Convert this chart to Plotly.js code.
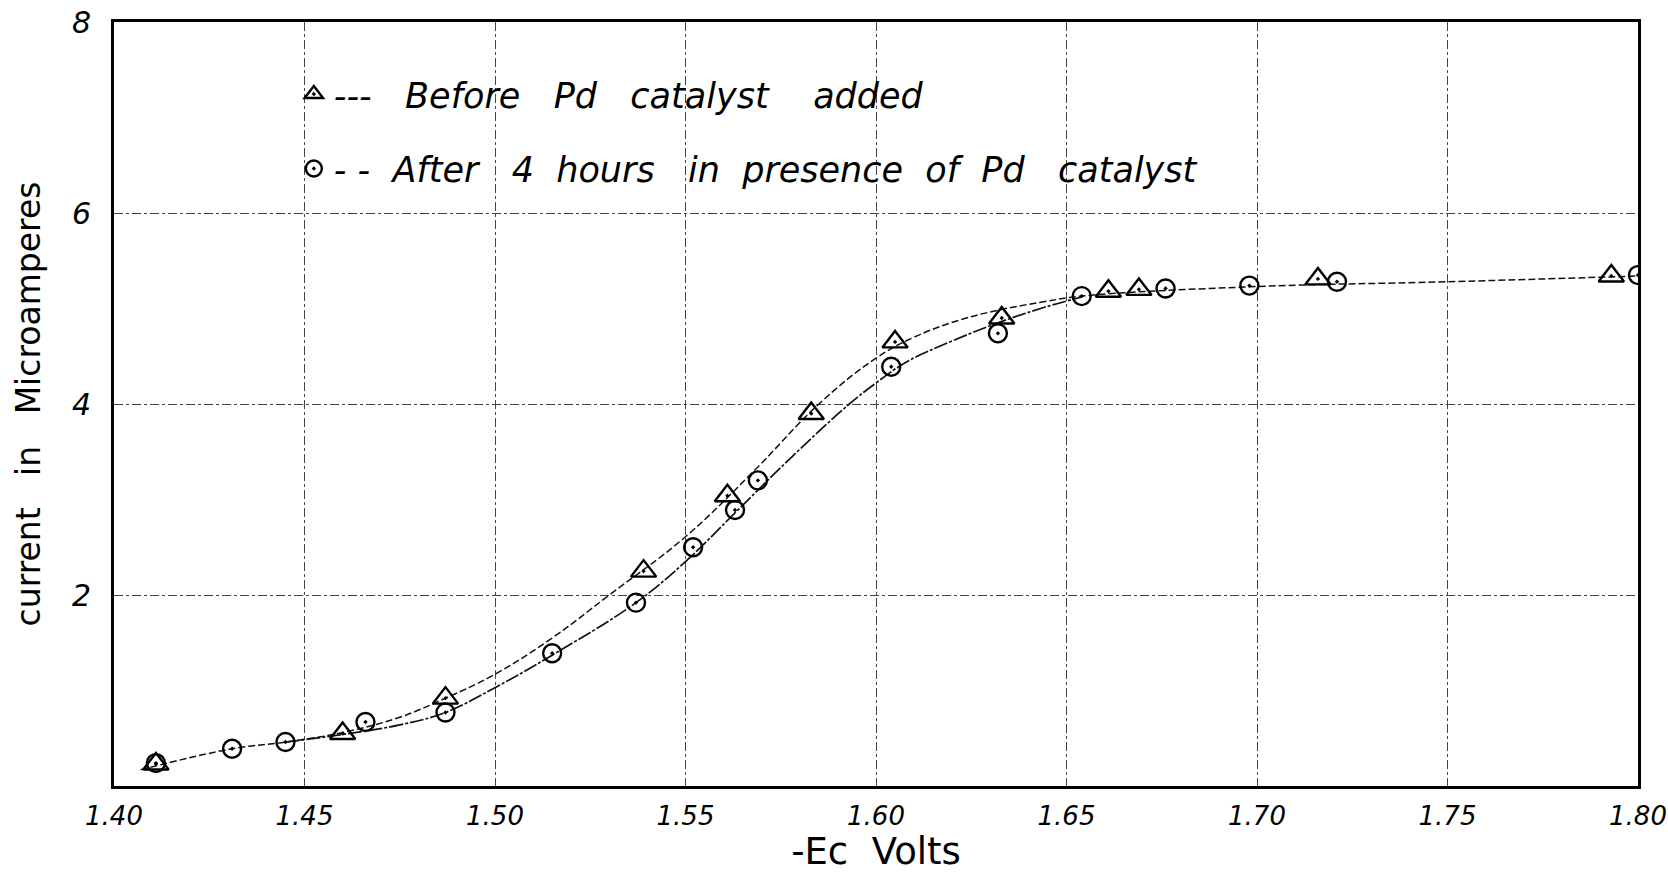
<!DOCTYPE html>
<html>
<head>
<meta charset="utf-8">
<script src="https://cdn.plot.ly/plotly-3.0.1.min.js"></script>
<style>
  html, body { margin: 0; padding: 0; background: #fff; }
  #chart { width: 1668px; height: 873px; }
</style>
</head>
<body>
<div id="chart"></div>
<script>
// Measured points: before Pd catalyst added (triangles)
const beforeV = [1.411, 1.460, 1.487, 1.539, 1.561, 1.583, 1.605, 1.633, 1.661, 1.669, 1.716, 1.793];
const beforeI = [0.23, 0.55, 0.92, 2.25, 3.04, 3.90, 4.65, 4.90, 5.18, 5.20, 5.31, 5.34];

// Measured points: after 4 hours in presence of Pd catalyst (circles)
const afterV = [1.411, 1.431, 1.445, 1.466, 1.487, 1.515, 1.537, 1.552, 1.563, 1.569, 1.604, 1.632, 1.654, 1.676, 1.698, 1.721, 1.800];
const afterI = [0.24, 0.39, 0.46, 0.67, 0.77, 1.39, 1.92, 2.50, 2.89, 3.20, 4.39, 4.74, 5.13, 5.21, 5.24, 5.28, 5.35];

// Hand-drawn smooth curves
const beforeCurveV = [1.407, 1.431, 1.445, 1.460, 1.475, 1.487, 1.500, 1.515, 1.530, 1.550, 1.568, 1.585, 1.600, 1.610, 1.622, 1.633, 1.644, 1.654, 1.700, 1.750, 1.800];
const beforeCurveI = [0.17, 0.39, 0.46, 0.56, 0.72, 0.92, 1.17, 1.55, 2.00, 2.61, 3.30, 4.00, 4.48, 4.70, 4.88, 4.99, 5.07, 5.13, 5.23, 5.28, 5.34];
const afterCurveV = [1.445, 1.460, 1.475, 1.487, 1.500, 1.515, 1.537, 1.550, 1.563, 1.578, 1.593, 1.600, 1.608, 1.620, 1.632, 1.644, 1.654];
const afterCurveI = [0.46, 0.54, 0.64, 0.77, 1.03, 1.37, 1.92, 2.35, 2.86, 3.45, 4.00, 4.22, 4.44, 4.66, 4.85, 5.01, 5.12];

// Tick labels
const xTickVals = [1.40, 1.45, 1.50, 1.55, 1.60, 1.65, 1.70, 1.75, 1.80];
const xTickText = ["1.40", "1.45", "1.50", "1.55", "1.60", "1.65", "1.70", "1.75", "1.80"];
const yTickVals = [2, 4, 6, 8];
const yTickText = ["2", "4", "6", "8"];

const S = "\u00a0";
const sp = n => S.repeat(n);
const beforeName = "---" + sp(3) + "Before" + sp(3) + "Pd" + sp(3) + "catalyst" + sp(4) + "added";
const afterName = "-" + S + "-" + sp(2) + "After" + sp(3) + "4" + sp(2) + "hours" + sp(3) + "in" + sp(2) + "presence" + sp(2) + "of" + sp(2) + "Pd" + sp(3) + "catalyst";
const yTitle = "current" + sp(3) + "in" + sp(3) + "Microamperes";
const xTitle = "-Ec" + sp(2) + "Volts";

const FONT = "DejaVu Sans, sans-serif";

const traces = [
  {
    x: beforeCurveV, y: beforeCurveI, type: "scatter", mode: "lines",
    line: { color: "#111", width: 1.5, shape: "spline", smoothing: 1.1, dash: "7px,3px" },
    showlegend: false, hoverinfo: "skip"
  },
  {
    x: afterCurveV, y: afterCurveI, type: "scatter", mode: "lines",
    line: { color: "#111", width: 1.7, shape: "spline", smoothing: 1.1, dash: "14px,2px,3px,2px" },
    showlegend: false, hoverinfo: "skip"
  },
  {
    x: beforeV, y: beforeI, type: "scatter", mode: "markers", name: beforeName,
    legendgroup: "before",
    marker: { symbol: "triangle-up-open-dot", size: 22, color: "#000", line: { color: "#000", width: 2.4 } }
  },
  {
    x: afterV, y: afterI, type: "scatter", mode: "markers", name: afterName,
    legendgroup: "after",
    marker: { symbol: "circle-open-dot", size: 18, color: "#000", line: { color: "#000", width: 2.4 } }
  }
];

const layout = {
  width: 1668, height: 873,
  paper_bgcolor: "#fff", plot_bgcolor: "#fff",
  margin: { l: 114, r: 30, t: 22, b: 87 },
  font: { family: FONT, color: "#000" },
  showlegend: true,
  legend: {
    x: 0.118, y: 0.944, xanchor: "left", yanchor: "top",
    bgcolor: "rgba(0,0,0,0)", borderwidth: 0,
    font: { family: FONT, size: 35, style: "italic", color: "#000" },
    tracegroupgap: 26, itemwidth: 30
  },
  xaxis: {
    range: [1.40, 1.80],
    tickvals: xTickVals, ticktext: xTickText,
    tickfont: { family: FONT, size: 26, style: "italic" },
    ticks: "", ticklabelstandoff: 5, ticklabeloverflow: "allow",
    showline: true, linecolor: "#000", linewidth: 3, mirror: true,
    showgrid: true, gridcolor: "#444", gridwidth: 1, griddash: "dashdot",
    zeroline: false,
    title: { text: xTitle, font: { family: FONT, size: 37 }, standoff: 4 }
  },
  yaxis: {
    range: [0, 8],
    tickvals: yTickVals, ticktext: yTickText,
    tickfont: { family: FONT, size: 30, style: "italic" },
    ticks: "", ticklabelstandoff: 14,
    showline: true, linecolor: "#000", linewidth: 3, mirror: true,
    showgrid: true, gridcolor: "#444", gridwidth: 1, griddash: "dashdot",
    zeroline: false,
    title: { text: yTitle, font: { family: FONT, size: 33 }, standoff: 22 }
  }
};

Plotly.newPlot("chart", traces, layout, { displayModeBar: false, staticPlot: true });
</script>
</body>
</html>
